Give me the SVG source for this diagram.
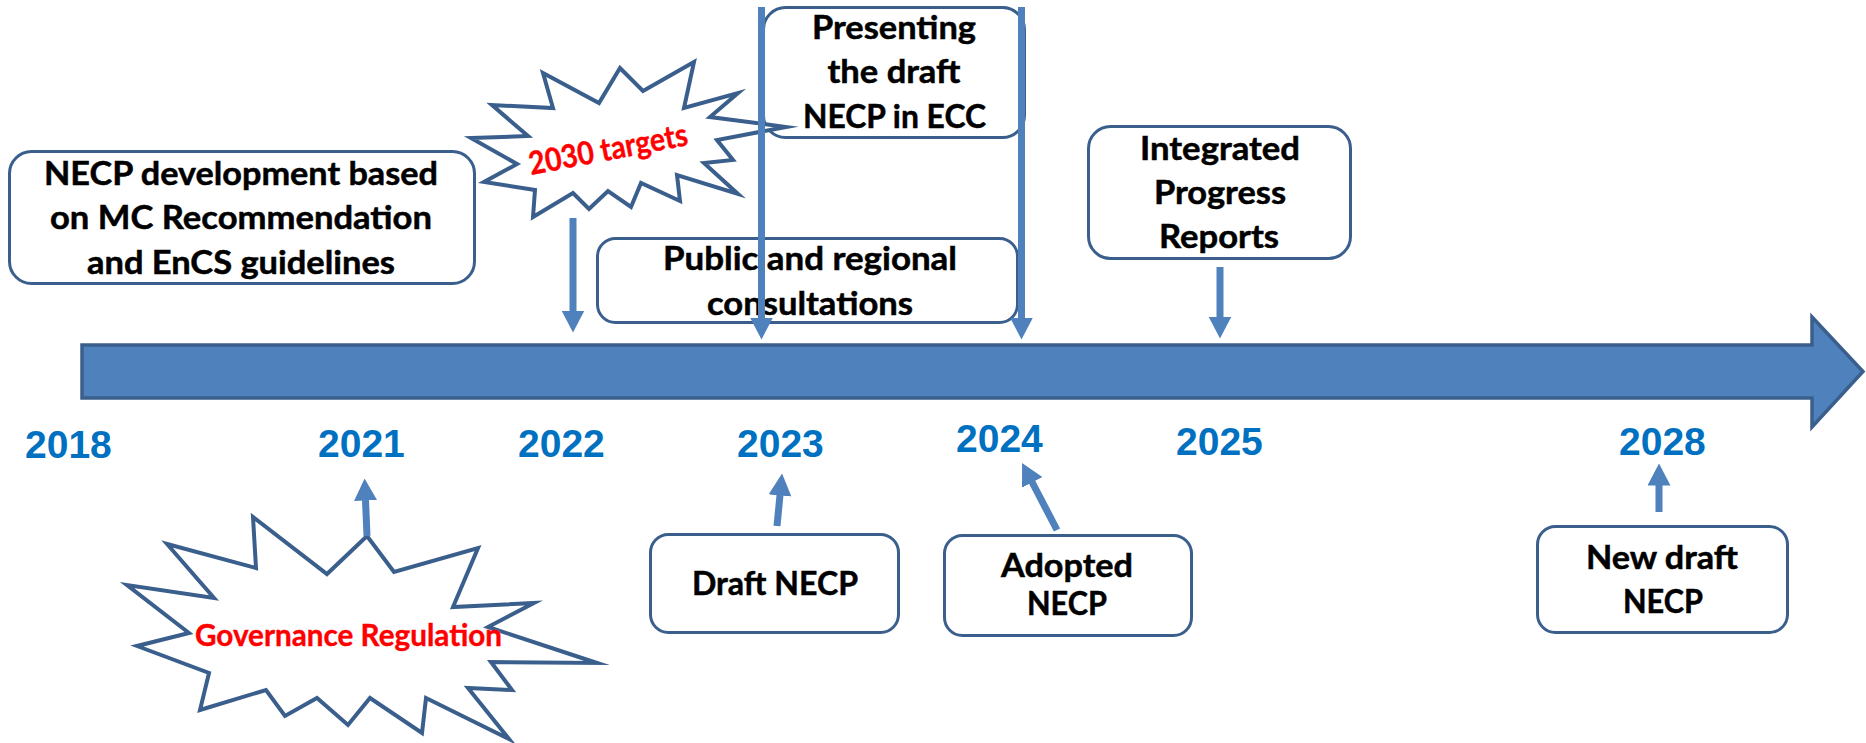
<svg xmlns="http://www.w3.org/2000/svg" width="1866" height="743" viewBox="0 0 1866 743">
<style>
.box{fill:#fff;stroke:#3B5F8C;stroke-width:3}
.star{fill:#fff;stroke:#3B5F8C;stroke-width:4;stroke-linejoin:miter;stroke-miterlimit:10}
.lbl{font-family:Lato,"Liberation Sans",sans-serif;font-weight:bold;font-size:33px;fill:#000;stroke:#000;stroke-width:0.5;text-anchor:middle}
.red{font-family:Lato,"Liberation Sans",sans-serif;font-weight:bold;fill:#FF0000;stroke:#FF0000;stroke-width:0.4}
.yr{font-family:"Liberation Sans",Arial,sans-serif;font-weight:bold;font-size:39px;fill:#0070C0}
.conn{stroke:#4F81BD;stroke-width:7;fill:none;marker-end:url(#ah)}
</style>
<defs>
<marker id="ah" markerUnits="userSpaceOnUse" viewBox="0 0 22 23" markerWidth="22" markerHeight="23" refX="0.5" refY="11.5" orient="auto">
<path d="M0,0 L22,11.5 L0,23 z" fill="#4F81BD"/>
</marker>
</defs>
<rect width="1866" height="743" fill="#fff"/>

<g id="timeline">
<polygon points="82,345 1812,345 1812,317 1863,371.5 1812,427 1812,398 82,398" fill="#4F81BD" stroke="#3B5F8C" stroke-width="3.5"/>
</g>

<g id="node-necp-dev">
<rect class="box" x="9.5" y="151.5" width="465" height="132" rx="22"/>
<text class="lbl" x="241" y="185" textLength="394" lengthAdjust="spacingAndGlyphs">NECP development based</text>
<text class="lbl" x="241" y="229" textLength="382" lengthAdjust="spacingAndGlyphs">on MC Recommendation</text>
<text class="lbl" x="241" y="274" textLength="308" lengthAdjust="spacingAndGlyphs">and EnCS guidelines</text>
</g>

<g id="node-public">
<rect class="box" x="597.5" y="238.5" width="420" height="84" rx="18"/>
<text class="lbl" x="810" y="270" textLength="294" lengthAdjust="spacingAndGlyphs">Public and regional</text>
<text class="lbl" x="810" y="315" textLength="206" lengthAdjust="spacingAndGlyphs">consultations</text>
</g>

<g id="node-presenting">
<rect class="box" x="763.5" y="7.5" width="261" height="130" rx="22"/>
<text class="lbl" x="894" y="39" textLength="164" lengthAdjust="spacingAndGlyphs">Presenting</text>
<text class="lbl" x="894" y="83" textLength="133" lengthAdjust="spacingAndGlyphs">the draft</text>
<text class="lbl" x="894.5" y="128" textLength="183" lengthAdjust="spacingAndGlyphs">NECP in ECC</text>
</g>

<g id="node-2030-targets">
<polygon class="star" points="543,73 599,103 620,68 643,91 694,62 684,108 738,93 710,117 786,127 717,140 733,160 704,163 738,194 677,175 680,201 641,183 631,207 608,191 589,209 573,193 533,217 535,190 484,182 517,164 471,138 528,136 492,105 553,108"/>
<text class="red" x="531" y="175" font-size="32" textLength="161" lengthAdjust="spacingAndGlyphs" transform="rotate(-10.75 531 175)">2030 targets</text>
</g>

<g id="node-integrated">
<rect class="box" x="1088.5" y="126.5" width="262" height="132" rx="22"/>
<text class="lbl" x="1220" y="160" textLength="160" lengthAdjust="spacingAndGlyphs">Integrated</text>
<text class="lbl" x="1220" y="204" textLength="132" lengthAdjust="spacingAndGlyphs">Progress</text>
<text class="lbl" x="1219" y="248" textLength="120" lengthAdjust="spacingAndGlyphs">Reports</text>
</g>

<g id="years">
<text class="yr" x="25" y="458">2018</text>
<text class="yr" x="318" y="457">2021</text>
<text class="yr" x="518" y="457">2022</text>
<text class="yr" x="737" y="457">2023</text>
<text class="yr" x="956" y="452">2024</text>
<text class="yr" x="1176" y="455">2025</text>
<text class="yr" x="1619" y="455">2028</text>
</g>

<g id="node-governance">
<polygon class="star" points="367,536 394,572 478,548 453,607 534,603 488,627 597,663 491,662 512,690 468,688 509,739 426,698 422,733 370,698 348,725 317,698 285,716 266,690 200,710 209,673 137,646 189,633 127,585 214,598 167,544 256,568 253,517 327,574"/>
<text class="red" x="195" y="646" font-size="31" textLength="307" lengthAdjust="spacingAndGlyphs">Governance Regulation</text>
</g>

<g id="node-draft">
<rect class="box" x="650.5" y="534.5" width="248" height="98" rx="18"/>
<text class="lbl" x="775" y="595" textLength="166" lengthAdjust="spacingAndGlyphs">Draft NECP</text>
</g>

<g id="node-adopted">
<rect class="box" x="944.5" y="535.5" width="247" height="100" rx="18"/>
<text class="lbl" x="1067" y="577" textLength="132" lengthAdjust="spacingAndGlyphs">Adopted</text>
<text class="lbl" x="1067" y="615" textLength="80" lengthAdjust="spacingAndGlyphs">NECP</text>
</g>

<g id="node-new-draft">
<rect class="box" x="1537.5" y="526.5" width="250" height="106" rx="18"/>
<text class="lbl" x="1662" y="569" textLength="152" lengthAdjust="spacingAndGlyphs">New draft</text>
<text class="lbl" x="1663" y="613" textLength="80" lengthAdjust="spacingAndGlyphs">NECP</text>
</g>

<g id="connectors">
<line class="conn" x1="573" y1="218" x2="573" y2="311"/>
<line class="conn" x1="761.5" y1="7" x2="761.5" y2="318"/>
<line class="conn" x1="1021.5" y1="7" x2="1021.5" y2="318"/>
<line class="conn" x1="1220" y1="267" x2="1220" y2="317"/>
<line class="conn" x1="367" y1="536" x2="365.5" y2="500"/>
<line class="conn" x1="777" y1="526" x2="780" y2="495"/>
<line class="conn" x1="1057" y1="530" x2="1032" y2="482"/>
<line class="conn" x1="1659" y1="512" x2="1659" y2="485"/>
</g>
</svg>
